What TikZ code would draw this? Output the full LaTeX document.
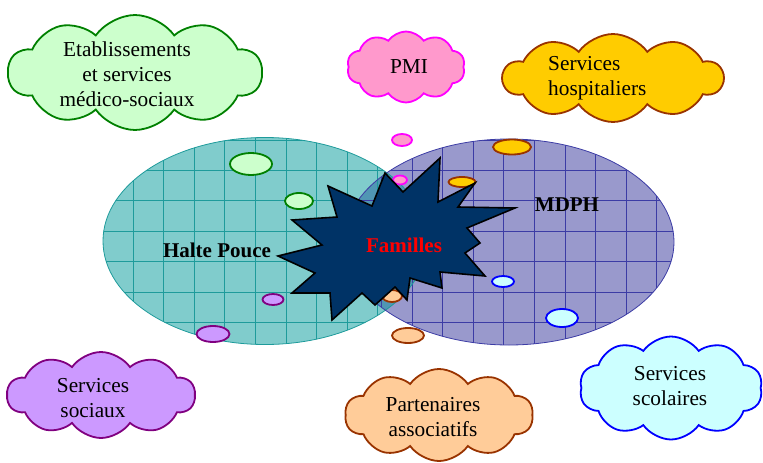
\documentclass[tikz,border=0pt]{standalone}
\usepackage{fontspec}
\setmainfont{Liberation Serif}
\usetikzlibrary{shapes.symbols,shapes.geometric}
\definecolor{tealfill}{RGB}{128,204,204}
\definecolor{tealline}{RGB}{30,155,155}
\definecolor{purpfill}{RGB}{153,153,204}
\definecolor{purpline}{RGB}{60,60,165}
\definecolor{overlapfill}{RGB}{80,150,180}
\definecolor{starfill}{RGB}{0,51,102}
\definecolor{greenfill}{RGB}{204,255,204}
\definecolor{greenline}{RGB}{0,128,0}
\definecolor{pinkfill}{RGB}{255,153,204}
\definecolor{pinkline}{RGB}{255,0,255}
\definecolor{yellowfill}{RGB}{255,204,0}
\definecolor{brownline}{RGB}{153,51,0}
\definecolor{violetfill}{RGB}{204,153,255}
\definecolor{violetline}{RGB}{128,0,128}
\definecolor{orangefill}{RGB}{255,204,153}
\definecolor{bluefill}{RGB}{204,255,255}
\definecolor{blueline}{RGB}{0,0,255}
\begin{document}
\begin{tikzpicture}[x=1pt,y=-1pt,
  cloudbox/.style={cloud, cloud puffs=10, cloud puff arc=110, cloud ignores aspect, line width=1.8pt, inner sep=0pt},
  tail/.style={ellipse, line width=1.8pt, inner sep=0pt},
  lbl/.style={font=\fontsize{21.3}{25}\selectfont, align=center, inner sep=0pt},
  blbl/.style={font=\fontsize{21}{25}\selectfont\bfseries, inner sep=0pt},
  tgrid/.style={tealline, line width=0.7pt},
  pgrid/.style={purpline, line width=0.7pt}]
\useasboundingbox (0,0) rectangle (763,463);

% big ellipses
\fill[tealfill] (265,241) ellipse [x radius=162, y radius=103.5];
\fill[purpfill] (509,242) ellipse [x radius=165, y radius=103];
\begin{scope}
  \clip (265,241) ellipse [x radius=162, y radius=103.5];
  \fill[overlapfill] (509,242) ellipse [x radius=165, y radius=103];
\end{scope}
\begin{scope}
  \clip (265,241) ellipse [x radius=162, y radius=103.5];
  \foreach \gx in {133,163.6,194.2,224.8,255.4,286,316.6,347.2,377.8,408.4}
    \draw[tgrid] (\gx,130) -- (\gx,350);
  \foreach \gy in {140,170,200.5,231,261.5,292,322.5}
    \draw[tgrid] (100,\gy) -- (430,\gy);
\end{scope}
\begin{scope}
  \clip (509,242) ellipse [x radius=165, y radius=103];
  \foreach \gx in {381.4,412,442.6,473.2,503.8,534.4,565,595.6,626.2,656.8}
    \draw[pgrid] (\gx,130) -- (\gx,350);
  \foreach \gy in {140,170,200.5,231,261.5,292,322.5}
    \draw[pgrid] (340,\gy) -- (680,\gy);
\end{scope}
\draw[tealline, line width=0.8pt] (265,241) ellipse [x radius=162, y radius=103.5];
\draw[purpline, line width=0.8pt] (509,242) ellipse [x radius=165, y radius=103];

% cloud tails
\node[tail, draw=greenline, fill=greenfill, minimum width=42pt, minimum height=22pt] (g1) at (251,164) {};
\node[tail, draw=greenline, fill=greenfill, minimum width=28pt, minimum height=16pt] (g2) at (299,201) {};
\node[tail, draw=pinkline, fill=pinkfill, minimum width=20pt, minimum height=12pt] (p1) at (402,140) {};
\node[tail, draw=pinkline, fill=pinkfill, minimum width=14pt, minimum height=9pt] (p2) at (400,180) {};
\node[tail, draw=brownline, fill=yellowfill, minimum width=38pt, minimum height=15pt] (y1) at (512,147) {};
\node[tail, draw=brownline, fill=yellowfill, minimum width=27pt, minimum height=10pt] (y2) at (462,182) {};
\node[tail, draw=violetline, fill=violetfill, minimum width=33pt, minimum height=16pt] (v1) at (213,334) {};
\node[tail, draw=violetline, fill=violetfill, minimum width=21pt, minimum height=11pt] (v2) at (273,299.5) {};
\node[tail, draw=brownline, fill=orangefill, minimum width=32pt, minimum height=15pt] (o1) at (408,335.5) {};
\node[tail, draw=brownline, fill=orangefill, minimum width=20pt, minimum height=12pt] (o2) at (392,296) {};
\node[tail, draw=blueline, fill=bluefill, minimum width=32pt, minimum height=18pt] (b1) at (562,318) {};
\node[tail, draw=blueline, fill=bluefill, minimum width=22pt, minimum height=11pt] (b2) at (503,281.5) {};

% explosion star
\draw[fill=starfill, draw=black, line width=1.6pt, line join=miter]
  (385,173) -- (403,192) -- (440,158) -- (438,202) -- (475,183) -- (458,207)
  -- (515,208) -- (467,228) -- (480,243) -- (465,253) -- (485,276) -- (440,272)
  -- (442,288) -- (410,278) -- (407,300) -- (395,287) -- (375,305) -- (362,293)
  -- (332,320) -- (330,293) -- (292,293) -- (315,273) -- (278,256) -- (322,245)
  -- (292,220) -- (337,217) -- (328,186) -- (372,206) -- cycle;

% ellipse / star labels
\node[blbl] (halte) at (217,250) {Halte Pouce};
\node[blbl] (mdph) at (567,205) {MDPH};
\node[blbl, text=red] (familles) at (404,245) {Familles};

% clouds
\node[cloudbox, draw=greenline, fill=greenfill, minimum width=254pt, minimum height=115pt] (cg) at (135,72.5) {};
\node[lbl] (tg) at (127,74) {Etablissements\\et services\\médico-sociaux};
\node[cloudbox, draw=pinkline, fill=pinkfill, minimum width=118pt, minimum height=71pt] (cp) at (406,67) {};
\node[lbl] (tp) at (409,67) {PMI};
\node[cloudbox, draw=brownline, fill=yellowfill, minimum width=220pt, minimum height=88pt] (cy) at (613,78) {};
\node[lbl, align=left, anchor=west] (ty) at (548,78) {Services\\hospitaliers};
\node[cloudbox, draw=violetline, fill=violetfill, minimum width=188pt, minimum height=86pt] (cv) at (101,395) {};
\node[lbl] (tv) at (93,398) {Services\\sociaux};
\node[cloudbox, draw=brownline, fill=orangefill, minimum width=188pt, minimum height=92pt] (co) at (439,415) {};
\node[lbl] (to) at (433,417) {Partenaires\\associatifs};
\node[cloudbox, draw=blueline, fill=bluefill, minimum width=183pt, minimum height=103pt] (cb) at (671,388) {};
\node[lbl] (tb) at (670,386) {Services\\scolaires};
\end{tikzpicture}
\end{document}
